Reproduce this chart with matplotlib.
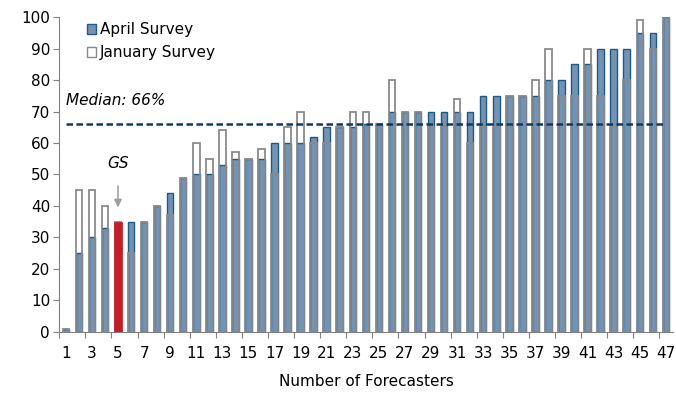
import matplotlib
matplotlib.use("Agg")
import matplotlib.pyplot as plt
import numpy as np
from matplotlib.patches import Patch

plt.rcParams['font.family'] = ['DejaVu Sans']

forecasters = list(range(1, 48))
april = [1, 25, 30, 33, 35, 35, 35, 40, 44, 49,
         50, 50, 53, 55, 55, 55, 60, 60, 60, 62,
         65, 65, 65, 66, 66, 70, 70, 70, 70, 70,
         70, 70, 75, 75, 75, 75, 75, 80, 80, 85,
         85, 90, 90, 90, 95, 95, 100]
january = [1, 45, 45, 40, 35, 25, 35, 40, 37, 49,
           60, 55, 64, 57, 55, 58, 50, 65, 70, 60,
           60, 65, 70, 70, 66, 80, 70, 70, 65, 65,
           74, 60, 65, 65, 75, 75, 80, 90, 75, 75,
           90, 75, 65, 80, 99, 90, 100]
gs_index = 5
median = 66

fig = plt.figure(figsize=(6.76, 3.93), dpi=100)
ax = fig.add_axes([0.0877, 0.156, 0.9079, 0.800])

x = np.array(forecasters)
w = 0.5
fill = '#7393b5'
blue_edge = '#1d5a85'
gray_edge = '#8a8a8a'
fs = 11

ax.bar(x, april, width=w, color=fill, edgecolor=blue_edge, linewidth=1.0, zorder=2)
ax.bar(x, january, width=w, facecolor='none', edgecolor=gray_edge, linewidth=1.3, zorder=3)
ax.bar([gs_index], [april[gs_index - 1]], width=w + 0.05, color='#c41e2a',
       edgecolor='#c41e2a', linewidth=0.5, zorder=4)

ax.hlines(median, 1, 47, colors='#0d3a63', linestyles=(0, (2.6, 1.4)), linewidth=1.8, zorder=5)
ax.text(1, 73.6, f'Median: {median}%', fontsize=fs, style='italic', ha='left', va='center')

ax.annotate('', xy=(gs_index, 38.6), xytext=(gs_index, 47.2),
            arrowprops=dict(arrowstyle='-|>,head_width=0.22,head_length=0.45',
                            color='#a0a0a0', lw=1.2))
ax.text(gs_index, 53.6, 'GS', fontsize=fs, style='italic', ha='center', va='center')

ax.set_xlim(0.5, 47.55)
ax.set_ylim(0, 100)
ax.set_yticks(range(0, 101, 10))
ax.set_xticks(range(1, 48, 2))
ax.set_xticks(np.arange(0.5, 48, 2), minor=True)
ax.tick_params(axis='x', which='major', length=0, pad=10, labelsize=fs)
ax.tick_params(axis='x', which='minor', length=4, color='#808080', width=0.8)
ax.tick_params(axis='y', length=4, color='#808080', width=0.8, labelsize=fs, pad=2.6)

for s in ['top', 'right']:
    ax.spines[s].set_visible(False)
for s in ['left', 'bottom']:
    ax.spines[s].set_color('#808080')
    ax.spines[s].set_linewidth(0.8)

ax.set_xlabel('Number of Forecasters', fontsize=fs, labelpad=10)

handles = [Patch(facecolor=fill, edgecolor=blue_edge, linewidth=1.0),
           Patch(facecolor='white', edgecolor=gray_edge, linewidth=1.0)]
ax.legend(handles, ['April Survey', 'January Survey'], loc='upper left',
          bbox_to_anchor=(0.035, 1.003), frameon=False, fontsize=fs,
          handlelength=0.6, handleheight=0.6, handletextpad=0.25, labelspacing=0.5,
          borderaxespad=0.0)

fig.savefig('out.png', dpi=100)
